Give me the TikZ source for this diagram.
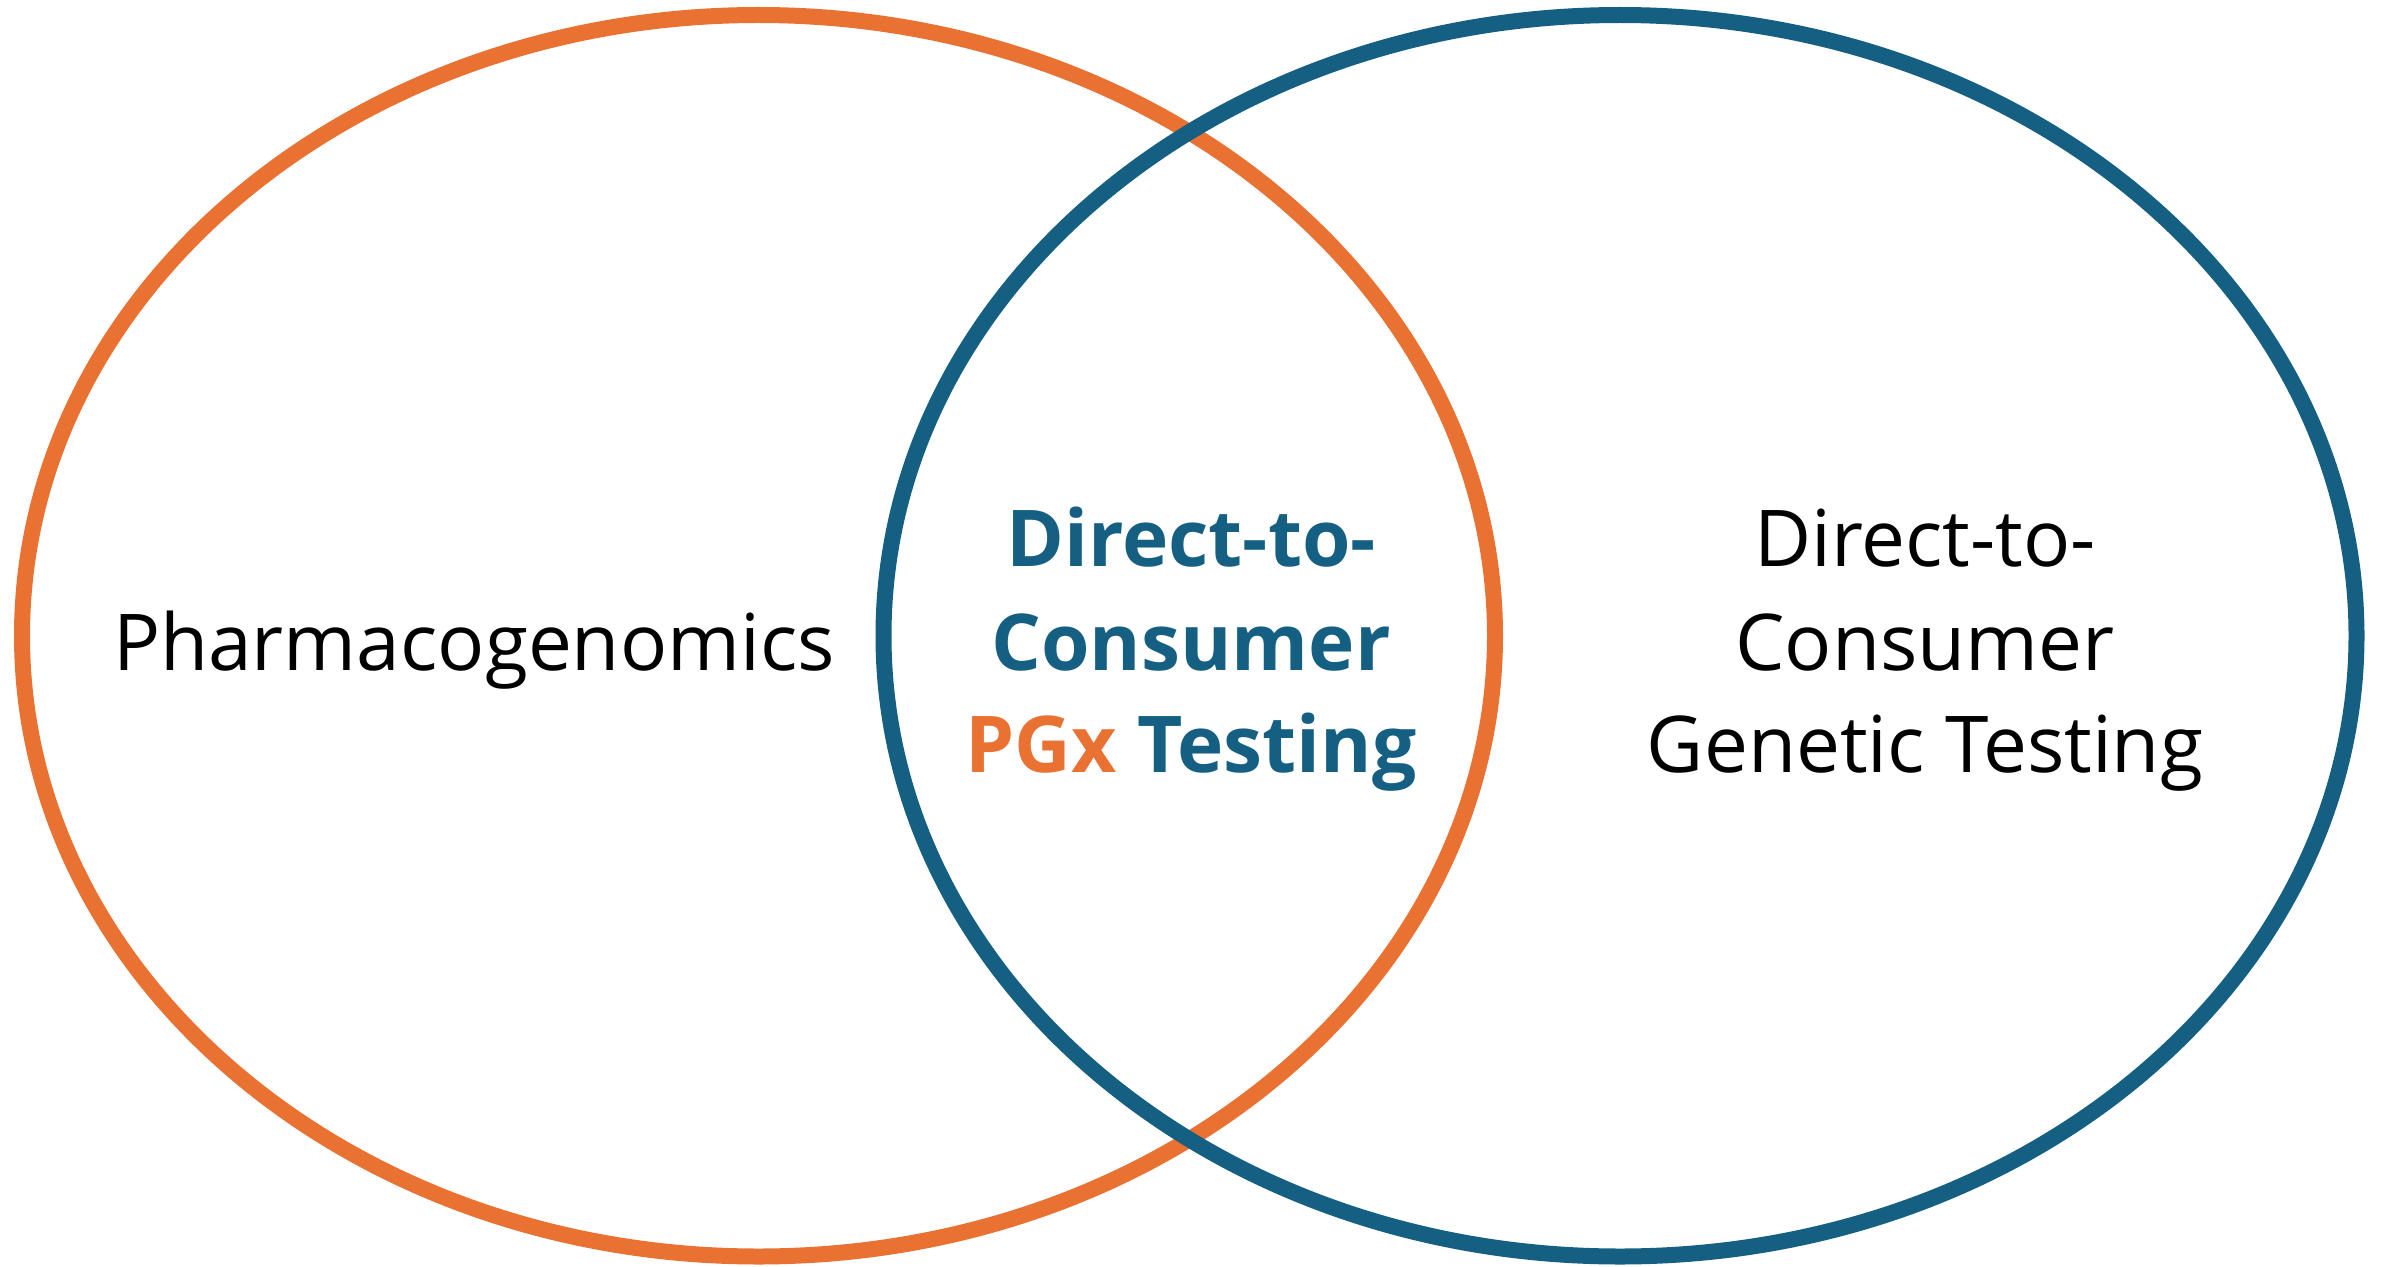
\documentclass[tikz,border=0pt]{standalone}
\usepackage{fontspec}
\setmainfont{Open Sans}
\definecolor{pgxorange}{HTML}{E97132}
\definecolor{dtcblue}{HTML}{156082}
\tikzset{
  ring/.style={line width=0.16cm},
  lbl/.style={anchor=base, inner sep=0pt, font=\fontsize{22.3}{29}\selectfont},
  boldlbl/.style={lbl, font=\fontsize{22.3}{29}\selectfont\bfseries, text=dtcblue}
}
\begin{document}
\begin{tikzpicture}
\useasboundingbox (0,0) rectangle (23.87,12.66);
% left (orange) and right (blue) sets; blue drawn on top
\draw[ring, pgxorange] (7.585,6.3025) ellipse [x radius=7.365, y radius=6.2075];
\draw[ring, dtcblue] (16.20,6.3025) ellipse [x radius=7.365, y radius=6.2075];
% left label
\node[lbl] (pgx) at (4.74,5.96) {Pharmacogenomics};
% intersection label
\node[boldlbl] (mid1) at (11.91,7.00) {Direct-to-};
\node[boldlbl] (mid2) at (11.91,5.96) {Consumer};
\node[boldlbl] (mid3) at (11.91,4.94) {\textcolor{pgxorange}{PGx} Testing};
% right label
\node[lbl] (dtc1) at (19.25,7.00) {Direct-to-};
\node[lbl] (dtc2) at (19.25,5.96) {Consumer};
\node[lbl] (dtc3) at (19.25,4.94) {Genetic Testing};
\end{tikzpicture}
\end{document}
